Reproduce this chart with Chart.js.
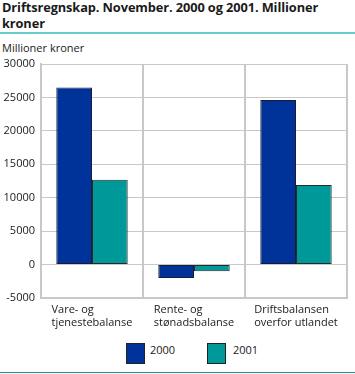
<!DOCTYPE html>
<html>
<head>
<meta charset="utf-8">
<script src="https://cdn.jsdelivr.net/npm/chart.js@4"></script>
<style>
  html, body { margin: 0; padding: 0; background: #fff; }
  body { width: 355px; height: 374px; position: relative; overflow: hidden; font-family: "Open Sans", sans-serif; color: #1a1a1a; }
  #title { position: absolute; left: 2px; top: 0px; font-weight: bold; font-size: 12.8px; line-height: 15.5px; letter-spacing: -0.1px; }
  #topline { position: absolute; left: 0; top: 32px; width: 355px; height: 2px; background: #66cccc; }
  #unit { position: absolute; left: 2px; top: 40px; font-size: 11px; }
  #chartwrap { position: absolute; left: 0; top: 0; width: 355px; height: 340px; }
  .lg-box { position: absolute; top: 343px; width: 17px; height: 19px; border: 1px solid #222; }
  .lg-txt { position: absolute; top: 342px; font-size: 11px; }
  #botline { position: absolute; left: 0; top: 372px; width: 355px; height: 1px; background: #1a9a9a; }
</style>
</head>
<body>
<div id="title">Driftsregnskap. November. 2000 og 2001. Millioner<br>kroner</div>
<div id="topline"></div>
<div id="unit">Millioner kroner</div>
<div id="chartwrap"><canvas id="c" width="355" height="340"></canvas></div>
<div class="lg-box" style="left:126px;background:#003399"></div>
<div class="lg-txt" style="left:150px">2000</div>
<div class="lg-box" style="left:207px;background:#009999"></div>
<div class="lg-txt" style="left:233px">2001</div>
<div id="botline"></div>
<script>
const categories = [["Vare- og", "tjenestebalanse"], ["Rente- og", "stønadsbalanse"], ["Driftsbalansen", "overfor utlandet"]];
const seriesNames = ["2000", "2001"];
const values2000 = [26500, -2000, 24600];
const values2001 = [12700, -1000, 11900];
const yMin = -5000, yMax = 30000, yStep = 5000;

const FONT = '"Open Sans", sans-serif';

const leftLabels = {
  id: 'leftLabels',
  afterDraw(chart) {
    const ctx = chart.ctx;
    const xs = chart.scales.x;
    const base = chart.chartArea.bottom;
    ctx.save();
    ctx.font = '11px ' + FONT;
    ctx.fillStyle = '#1a1a1a';
    ctx.textAlign = 'left';
    ctx.textBaseline = 'alphabetic';
    categories.forEach((lines, i) => {
      const cx = xs.getPixelForValue(i);
      const w = Math.max(...lines.map(l => ctx.measureText(l).width));
      lines.forEach((l, j) => ctx.fillText(l, cx - w / 2, base + 15 + j * 13));
    });
    ctx.restore();
  }
};

new Chart(document.getElementById('c'), {
  type: 'bar',
  data: {
    labels: categories,
    datasets: [
      { label: seriesNames[0], data: values2000, backgroundColor: '#003399', borderColor: '#1a1a3a', borderWidth: 1, borderSkipped: false },
      { label: seriesNames[1], data: values2001, backgroundColor: '#009999', borderColor: '#2a2a2a', borderWidth: 1, borderSkipped: false }
    ]
  },
  options: {
    responsive: false,
    animation: false,
    events: [],
    layout: { padding: { top: 64, left: 0, right: 8, bottom: 7 } },
    plugins: { legend: { display: false }, tooltip: { enabled: false } },
    datasets: { bar: { categoryPercentage: 0.7, barPercentage: 1.0 } },
    scales: {
      x: {
        offset: true,
        grid: { offset: true, color: '#c8c8c8', lineWidth: 2, drawTicks: false },
        border: { color: '#c8c8c8', width: 2 },
        ticks: { color: 'transparent', font: { family: FONT, size: 11 } },
        afterFit(s) { s.height = 35; }
      },
      y: {
        min: yMin, max: yMax,
        grid: { color: '#c8c8c8', lineWidth: 1, drawTicks: false },
        border: { color: '#c8c8c8', width: 2 },
        ticks: { stepSize: yStep, padding: 6, color: '#1a1a1a', font: { family: FONT, size: 11 }, callback: v => String(v) },
        afterFit(s) { s.width = 41; }
      }
    }
  },
  plugins: [leftLabels]
});
</script>
</body>
</html>
